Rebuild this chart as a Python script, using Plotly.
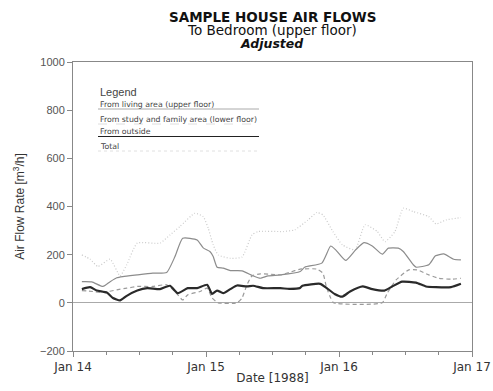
import pandas as pd
import plotly.graph_objects as go

# Hours after 1988-01-14 00:00 and air flow values [m3/h]
living_hours = [1.6, 3.4, 5.4, 6.7, 7.9, 9.0, 11.6, 14.4, 16.9, 18.4, 19.8, 22.4, 23.5, 24.7, 25.3, 26.0, 27.1, 28.4, 30.5, 32.5, 33.8, 35.2, 37.4,
                41.0, 41.8, 44.9, 46.5, 47.4, 49.2, 51.0, 52.5, 54.0, 55.8, 56.9, 58.7, 59.6, 61.4, 61.9, 64.2, 65.4, 66.9, 68.7, 70.0]
living_vals = [88, 87, 68, 88, 104, 109, 116, 123, 126, 192, 268, 261, 228, 213, 192, 148, 144, 134, 133, 112, 102, 112, 116,
               130, 148, 165, 236, 220, 176, 220, 250, 236, 202, 227, 227, 213, 158, 148, 158, 195, 203, 181, 178]

study_hours = [1.6, 3.6, 5.4, 7.9, 9.7, 11.6, 14.4, 16.9, 18.4, 19.8, 20.7, 22.9, 24.2, 25.1, 26.2, 29.6, 30.5, 31.4, 32.3, 33.8, 35.5, 37.4,
               39.0, 41.0, 44.0, 45.1, 45.7, 46.5, 47.0, 55.8, 56.7, 58.3, 60.6, 62.1, 64.2, 66.0, 68.4, 70.0]
study_vals = [51, 47, 43, 54, 61, 68, 68, 75, 47, 12, 33, 47, 61, 20, 0, 0, 20, 75, 112, 120, 119, 116,
              126, 140, 140, 123, 68, 20, 0, 0, 40, 95, 137, 137, 116, 102, 98, 102]

outside_hours = [1.6, 3.1, 4.3, 6.1, 7.2, 8.5, 9.7, 11.6, 13.4, 15.7, 17.5, 18.9, 20.7, 22.4, 24.2, 25.1, 26.0, 27.1, 28.4, 29.6, 31.4, 32.5, 34.3, 37.4,
                 39.0, 40.9, 41.4, 44.6, 45.8, 47.2, 48.6, 50.0, 52.3, 54.0, 56.2, 57.6, 59.4, 61.9, 63.7, 65.5, 68.2, 70.0]
outside_vals = [57, 65, 51, 43, 20, 10, 29, 51, 61, 57, 71, 40, 61, 61, 75, 37, 51, 40, 57, 72, 68, 71, 61, 61,
                58, 61, 71, 79, 61, 37, 26, 47, 68, 57, 51, 68, 88, 84, 68, 65, 65, 79]

total_hours = [1.6, 3.1, 4.5, 6.7, 8.5, 9.7, 11.6, 15.7, 17.5, 19.3, 22.0, 23.5, 24.4, 25.3, 26.2, 28.4, 30.5, 32.3, 33.4, 37.4,
               37.9, 40.0, 42.4, 44.0, 45.1, 46.9, 48.6, 50.9, 52.7, 54.9, 56.3, 58.1, 59.6, 61.4, 64.2, 65.5, 67.3, 70.0]
total_vals = [199, 181, 151, 181, 112, 158, 248, 248, 282, 317, 372, 358, 310, 241, 199, 185, 190, 282, 296, 296,
              296, 303, 344, 375, 365, 296, 241, 220, 324, 296, 254, 296, 393, 379, 358, 328, 344, 354]

series_names = ["From living area (upper floor)", "From study and family area (lower floor)", "From outside", "Total"]
y_tick_vals = [-200, 0, 200, 400, 600, 800, 1000]
x_tick_labels = ["Jan 14", "Jan 15", "Jan 16", "Jan 17"]

base = pd.Timestamp("1988-01-14")
def to_dates(hours):
    return [base + pd.Timedelta(hours=h) for h in hours]

SM = 0.5
fig = go.Figure()
fig.add_trace(go.Scatter(x=to_dates(total_hours), y=total_vals, mode="lines", name=series_names[3],
                         line=dict(color="#cacaca", width=1.2, dash="1px,2px", shape="spline", smoothing=SM)))
fig.add_trace(go.Scatter(x=to_dates(living_hours), y=living_vals, mode="lines", name=series_names[0],
                         line=dict(color="#8c8c8c", width=1.2, shape="spline", smoothing=SM)))
fig.add_trace(go.Scatter(x=to_dates(study_hours), y=study_vals, mode="lines", name=series_names[1],
                         line=dict(color="#9a9a9a", width=1.2, dash="4px,3px", shape="spline", smoothing=SM)))
fig.add_trace(go.Scatter(x=to_dates(outside_hours), y=outside_vals, mode="lines", name=series_names[2],
                         line=dict(color="#2a2a2a", width=2.2, shape="spline", smoothing=SM)))

tick_dates = [base + pd.Timedelta(days=i) for i in range(4)]
WIDE = "DejaVu Sans, Verdana, sans-serif"

fig.update_layout(
    width=493, height=391,
    margin=dict(l=73, r=21, t=62, b=40, autoexpand=False),
    paper_bgcolor="white", plot_bgcolor="white",
    showlegend=False,
    font=dict(family="Liberation Sans, Arial, sans-serif", color="#333"),
    xaxis=dict(
        range=[tick_dates[0], tick_dates[-1]],
        tickvals=tick_dates, ticktext=x_tick_labels,
        ticks="outside", ticklen=5, tickcolor="#888",
        minor=dict(dtick=6 * 3600 * 1000, ticks="outside", ticklen=3, tickcolor="#888", showgrid=False),
        showline=True, linecolor="#888", linewidth=1, mirror=True,
        showgrid=False, zeroline=False, automargin=False,
        tickfont=dict(size=12, color="#333", family=WIDE),
        title=dict(text="Date [1988]", font=dict(size=12, color="#333", family=WIDE), standoff=0),
    ),
    yaxis=dict(
        range=[-200, 1000], tickvals=y_tick_vals,
        ticks="outside", ticklen=5, tickcolor="#888",
        showline=True, linecolor="#888", linewidth=1, mirror=True,
        showgrid=False, zeroline=True, zerolinecolor="#aaa", zerolinewidth=1,
        automargin=False,
        tickfont=dict(size=11, color="#555"),
        title=dict(text="Air Flow Rate [m<sup>3</sup>/h]", font=dict(size=12, color="#333"), standoff=12),
    ),
)

def px_x(px):
    return (px - 73) / (472 - 73)
def px_y(py):
    return (351 - py) / (351 - 62)

# Title lines
fig.add_annotation(text="<b>SAMPLE HOUSE AIR FLOWS</b>", xref="paper", yref="paper", x=px_x(272), y=px_y(17),
                   showarrow=False, font=dict(size=13.5, color="#111", family=WIDE), xanchor="center", yanchor="middle")
fig.add_annotation(text="To Bedroom (upper floor)", xref="paper", yref="paper", x=px_x(272), y=px_y(30),
                   showarrow=False, font=dict(size=13.5, color="#111", family=WIDE), xanchor="center", yanchor="middle")
fig.add_annotation(text="<b><i>Adjusted</i></b>", xref="paper", yref="paper", x=px_x(272), y=px_y(43),
                   showarrow=False, font=dict(size=12.5, color="#111", family=WIDE), xanchor="center", yanchor="middle")

# In-plot legend
fig.add_annotation(text="Legend", xref="paper", yref="paper", x=px_x(98), y=px_y(92),
                   showarrow=False, font=dict(size=11, color="#444"), xanchor="left", yanchor="middle")
legend_rows = [104, 119, 131.5, 146]
legend_line_styles = [("#aaa", "solid", 1), ("#d5d5d5", "dash", 0.8), ("#222", "solid", 1.2), ("#e0e0e0", "dot", 1)]
for name, ry, (col, dash, w) in zip(series_names, legend_rows, legend_line_styles):
    fig.add_annotation(text=name, xref="paper", yref="paper", x=px_x(98), y=px_y(ry),
                       showarrow=False, font=dict(size=7.8, color="#444", family=WIDE), xanchor="left", yanchor="middle")
    fig.add_shape(type="line", xref="paper", yref="paper", x0=px_x(98), x1=px_x(259),
                  y0=px_y(ry + 5), y1=px_y(ry + 5), line=dict(color=col, width=w, dash=dash))

fig.write_html("out.html", config={"displayModeBar": False},
               post_script="document.body.style.margin='0';document.body.style.overflow='hidden';")
